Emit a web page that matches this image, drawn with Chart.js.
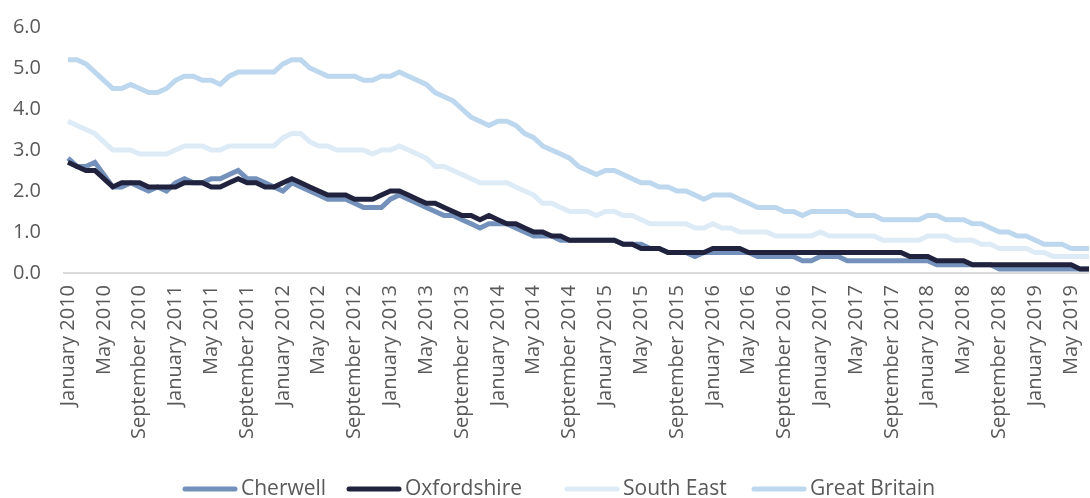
<!DOCTYPE html>
<html lang="en">
<head>
    <meta charset="UTF-8">
    <title>Claimant rate chart</title>
    <script src="https://cdn.jsdelivr.net/npm/chart.js"></script>
    <style>
        body { margin: 0; background: #fff; }
        #wrap { width: 1090px; height: 498px; }
    </style>
</head>
<body>
<div id="wrap"><canvas id="rateChart" width="1090" height="498"></canvas></div>

<script>
    // Month names used to build the category labels (Jan 2010 - Jul 2019)
    const monthNames = ['January', 'February', 'March', 'April', 'May', 'June', 'July',
        'August', 'September', 'October', 'November', 'December'];
    const startYear = 2010;
    const pointCount = 115;

    const months = [];
    for (let i = 0; i < pointCount; i++) {
        months.push(monthNames[i % 12] + ' ' + (startYear + Math.floor(i / 12)));
    }

    // Series values
    const cherwell = [
        2.8, 2.6, 2.6, 2.7, 2.4, 2.1, 2.1, 2.2, 2.1, 2.0, 2.1, 2.0,
        2.2, 2.3, 2.2, 2.2, 2.3, 2.3, 2.4, 2.5, 2.3, 2.3, 2.2, 2.1,
        2.0, 2.2, 2.1, 2.0, 1.9, 1.8, 1.8, 1.8, 1.7, 1.6, 1.6, 1.6,
        1.8, 1.9, 1.8, 1.7, 1.6, 1.5, 1.4, 1.4, 1.3, 1.2, 1.1, 1.2,
        1.2, 1.2, 1.1, 1.0, 0.9, 0.9, 0.9, 0.8, 0.8, 0.8, 0.8, 0.8,
        0.8, 0.8, 0.7, 0.7, 0.7, 0.6, 0.6, 0.5, 0.5, 0.5, 0.4, 0.5,
        0.5, 0.5, 0.5, 0.5, 0.5, 0.4, 0.4, 0.4, 0.4, 0.4, 0.3, 0.3,
        0.4, 0.4, 0.4, 0.3, 0.3, 0.3, 0.3, 0.3, 0.3, 0.3, 0.3, 0.3,
        0.3, 0.2, 0.2, 0.2, 0.2, 0.2, 0.2, 0.2, 0.1, 0.1, 0.1, 0.1,
        0.1, 0.1, 0.1, 0.1, 0.1, 0.1, 0.1
    ];
    const oxfordshire = [
        2.7, 2.6, 2.5, 2.5, 2.3, 2.1, 2.2, 2.2, 2.2, 2.1, 2.1, 2.1,
        2.1, 2.2, 2.2, 2.2, 2.1, 2.1, 2.2, 2.3, 2.2, 2.2, 2.1, 2.1,
        2.2, 2.3, 2.2, 2.1, 2.0, 1.9, 1.9, 1.9, 1.8, 1.8, 1.8, 1.9,
        2.0, 2.0, 1.9, 1.8, 1.7, 1.7, 1.6, 1.5, 1.4, 1.4, 1.3, 1.4,
        1.3, 1.2, 1.2, 1.1, 1.0, 1.0, 0.9, 0.9, 0.8, 0.8, 0.8, 0.8,
        0.8, 0.8, 0.7, 0.7, 0.6, 0.6, 0.6, 0.5, 0.5, 0.5, 0.5, 0.5,
        0.6, 0.6, 0.6, 0.6, 0.5, 0.5, 0.5, 0.5, 0.5, 0.5, 0.5, 0.5,
        0.5, 0.5, 0.5, 0.5, 0.5, 0.5, 0.5, 0.5, 0.5, 0.5, 0.4, 0.4,
        0.4, 0.3, 0.3, 0.3, 0.3, 0.2, 0.2, 0.2, 0.2, 0.2, 0.2, 0.2,
        0.2, 0.2, 0.2, 0.2, 0.2, 0.1, 0.1
    ];
    const southEast = [
        3.7, 3.6, 3.5, 3.4, 3.2, 3.0, 3.0, 3.0, 2.9, 2.9, 2.9, 2.9,
        3.0, 3.1, 3.1, 3.1, 3.0, 3.0, 3.1, 3.1, 3.1, 3.1, 3.1, 3.1,
        3.3, 3.4, 3.4, 3.2, 3.1, 3.1, 3.0, 3.0, 3.0, 3.0, 2.9, 3.0,
        3.0, 3.1, 3.0, 2.9, 2.8, 2.6, 2.6, 2.5, 2.4, 2.3, 2.2, 2.2,
        2.2, 2.2, 2.1, 2.0, 1.9, 1.7, 1.7, 1.6, 1.5, 1.5, 1.5, 1.4,
        1.5, 1.5, 1.4, 1.4, 1.3, 1.2, 1.2, 1.2, 1.2, 1.2, 1.1, 1.1,
        1.2, 1.1, 1.1, 1.0, 1.0, 1.0, 1.0, 0.9, 0.9, 0.9, 0.9, 0.9,
        1.0, 0.9, 0.9, 0.9, 0.9, 0.9, 0.9, 0.8, 0.8, 0.8, 0.8, 0.8,
        0.9, 0.9, 0.9, 0.8, 0.8, 0.8, 0.7, 0.7, 0.6, 0.6, 0.6, 0.6,
        0.5, 0.5, 0.4, 0.4, 0.4, 0.4, 0.4
    ];
    const greatBritain = [
        5.2, 5.2, 5.1, 4.9, 4.7, 4.5, 4.5, 4.6, 4.5, 4.4, 4.4, 4.5,
        4.7, 4.8, 4.8, 4.7, 4.7, 4.6, 4.8, 4.9, 4.9, 4.9, 4.9, 4.9,
        5.1, 5.2, 5.2, 5.0, 4.9, 4.8, 4.8, 4.8, 4.8, 4.7, 4.7, 4.8,
        4.8, 4.9, 4.8, 4.7, 4.6, 4.4, 4.3, 4.2, 4.0, 3.8, 3.7, 3.6,
        3.7, 3.7, 3.6, 3.4, 3.3, 3.1, 3.0, 2.9, 2.8, 2.6, 2.5, 2.4,
        2.5, 2.5, 2.4, 2.3, 2.2, 2.2, 2.1, 2.1, 2.0, 2.0, 1.9, 1.8,
        1.9, 1.9, 1.9, 1.8, 1.7, 1.6, 1.6, 1.6, 1.5, 1.5, 1.4, 1.5,
        1.5, 1.5, 1.5, 1.5, 1.4, 1.4, 1.4, 1.3, 1.3, 1.3, 1.3, 1.3,
        1.4, 1.4, 1.3, 1.3, 1.3, 1.2, 1.2, 1.1, 1.0, 1.0, 0.9, 0.9,
        0.8, 0.7, 0.7, 0.7, 0.6, 0.6, 0.6
    ];

    const textColor = '#595959';
    const fontFamily = '"Open Sans", "Noto Sans", sans-serif';

    function lineSet(label, data, colour, order) {
        return {
            label: label,
            data: data,
            borderColor: colour,
            backgroundColor: colour,
            borderWidth: 5,
            pointRadius: 0,
            tension: 0,
            fill: false,
            order: order
        };
    }

    // Excel style legend (short thick line + label) and an axis line that starts left of the first point
    const excelBits = {
        id: 'excelBits',
        beforeDatasetsDraw(chart) {
            const c = chart.ctx;
            const y0 = chart.scales.y.getPixelForValue(0);
            c.save();
            c.strokeStyle = '#D9D9D9';
            c.lineWidth = 2;
            c.beginPath();
            c.moveTo(63, y0);
            c.lineTo(chart.chartArea.right, y0);
            c.stroke();
            c.restore();
        },
        afterDraw(chart) {
            const c = chart.ctx;
            const starts = [183, 347, 565, 752];
            const y = 489;
            c.save();
            c.font = '21px ' + fontFamily;
            c.textBaseline = 'middle';
            c.fillStyle = textColor;
            chart.data.datasets.forEach((ds, i) => {
                const x = starts[i];
                c.strokeStyle = ds.borderColor;
                c.lineWidth = 5;
                c.lineCap = 'round';
                c.beginPath();
                c.moveTo(x + 2, y);
                c.lineTo(x + 52, y);
                c.stroke();
                c.fillText(ds.label, x + 58, y);
            });
            c.restore();
        }
    };

    const ctx = document.getElementById('rateChart').getContext('2d');
    new Chart(ctx, {
        type: 'line',
        data: {
            labels: months,
            datasets: [
                lineSet('Cherwell', cherwell, '#7391BA', 1),
                lineSet('Oxfordshire', oxfordshire, '#20223E', 0),
                lineSet('South East', southEast, '#DDEBF7', 2),
                lineSet('Great Britain', greatBritain, '#BDD7EE', 3)
            ]
        },
        plugins: [excelBits],
        options: {
            responsive: false,
            animation: false,
            layout: { padding: { top: 27, right: 1, left: 0, bottom: 0 } },
            plugins: {
                tooltip: { enabled: false },
                legend: { display: false }
            },
            scales: {
                x: {
                    grid: { display: false, drawTicks: false },
                    border: { display: false },
                    afterFit: scale => {
                        scale.height = 225;
                        scale.paddingLeft = 0;
                        scale.paddingRight = 0;
                    },
                    ticks: {
                        autoSkip: false,
                        minRotation: 90,
                        maxRotation: 90,
                        padding: 12,
                        color: textColor,
                        font: { family: fontFamily, size: 20 },
                        callback: function (value, index) {
                            return index % 4 === 0 ? this.getLabelForValue(value) : '';
                        }
                    }
                },
                y: {
                    min: 0,
                    max: 6,
                    grid: { display: false, drawTicks: false },
                    border: { display: false },
                    afterFit: scale => {
                        scale.width = 68;
                        scale.paddingTop = 0;
                        scale.paddingBottom = 0;
                    },
                    ticks: {
                        stepSize: 1,
                        padding: 27,
                        color: textColor,
                        font: { family: fontFamily, size: 20 },
                        callback: value => value.toFixed(1)
                    }
                }
            }
        }
    });
</script>
</body>
</html>
